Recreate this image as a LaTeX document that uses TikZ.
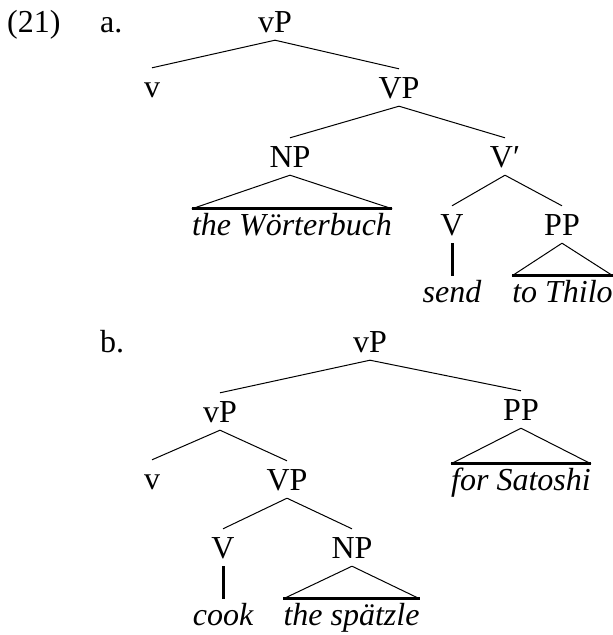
\documentclass[tikz,border=0pt]{standalone}
\usepackage{fontspec}
\setmainfont{Liberation Serif}
\begin{document}
\begin{tikzpicture}[x=1pt,y=-1pt,
  every node/.style={font=\fontsize{32}{38}\selectfont, inner xsep=0pt},
  cat/.style={anchor=base, inner ysep=8pt, text height=21pt, text depth=0pt},
  leaf/.style={anchor=base, inner ysep=0pt, text height=26pt, text depth=0pt, font=\fontsize{32}{38}\selectfont\itshape},
  tag/.style={anchor=base west, inner sep=0pt},
  branch/.style={line width=1pt},
  roof/.style={line width=2.8pt},
  stem/.style={line width=3pt}]
\useasboundingbox (0,0) rectangle (613,635);

% example number and sub-labels
\node[tag] (ex) at (7,32) {(21)};
\node[tag] (la) at (100,32) {a.};
\node[tag] (lb) at (100,352) {b.};

% tree (a)
\node[cat] (avP) at (275,32) {vP};
\node[cat] (av)  at (152,97) {v};
\node[cat] (aVP) at (399,98) {VP};
\node[cat] (aNP) at (290,167) {NP};
\node[cat] (aVb) at (505,167) {V\char"2032};
\node[leaf] (aWb) at (292,235) {the Wörterbuch};
\node[cat] (aV)  at (452,235) {V};
\node[cat] (aPP) at (562,235) {PP};
\node[leaf] (asend) at (452,302) {send};
\node[leaf] (aThilo) at (562.5,302) {to Thilo};

\draw[branch] (avP.south) -- (av.north);
\draw[branch] (avP.south) -- (aVP.north);
\draw[branch] (aVP.south) -- (aNP.north);
\draw[branch] (aVP.south) -- (aVb.north);
\draw[branch] (aNP.south) -- (aWb.north west);
\draw[branch] (aNP.south) -- (aWb.north east);
\draw[roof] (aWb.north west) -- (aWb.north east);
\draw[branch] (aVb.south) -- (aV.north);
\draw[branch] (aVb.south) -- (aPP.north);
\draw[stem] (aV.south) -- (asend.north);
\draw[branch] (aPP.south) -- (aThilo.north west);
\draw[branch] (aPP.south) -- (aThilo.north east);
\draw[roof] (aThilo.north west) -- (aThilo.north east);

% tree (b)
\node[cat] (bvP)  at (370,352) {vP};
\node[cat] (bvP2) at (220,422) {vP};
\node[cat] (bPP)  at (521,420) {PP};
\node[leaf] (bSat) at (521,490) {for Satoshi};
\node[cat] (bv)   at (152,489) {v};
\node[cat] (bVP)  at (287,490) {VP};
\node[cat] (bV)   at (223,558) {V};
\node[cat] (bNP)  at (352,558) {NP};
\node[leaf] (bcook) at (223,625) {cook};
\node[leaf] (bsp) at (351.5,625) {the spätzle};

\draw[branch] (bvP.south) -- (bvP2.north);
\draw[branch] (bvP.south) -- (bPP.north);
\draw[branch] (bPP.south) -- (bSat.north west);
\draw[branch] (bPP.south) -- (bSat.north east);
\draw[roof] (bSat.north west) -- (bSat.north east);
\draw[branch] (bvP2.south) -- (bv.north);
\draw[branch] (bvP2.south) -- (bVP.north);
\draw[branch] (bVP.south) -- (bV.north);
\draw[branch] (bVP.south) -- (bNP.north);
\draw[stem] (bV.south) -- (bcook.north);
\draw[branch] (bNP.south) -- (bsp.north west);
\draw[branch] (bNP.south) -- (bsp.north east);
\draw[roof] (bsp.north west) -- (bsp.north east);
\end{tikzpicture}
\end{document}
